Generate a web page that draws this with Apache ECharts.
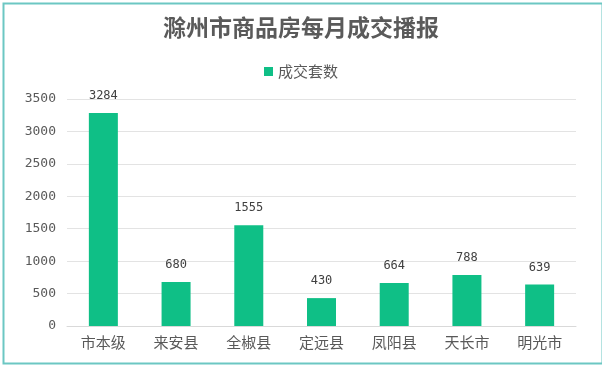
<!DOCTYPE html>
<html><head><meta charset="utf-8">
<script src="https://cdn.jsdelivr.net/npm/echarts@6/dist/echarts.min.js"></script>
<style>html,body{margin:0;padding:0;background:#fff}#c{width:602px;height:373px}</style>
</head><body><div id="c"></div>
<script>
const categories = ['市本级','来安县','全椒县','定远县','凤阳县','天长市','明光市'];
const deals = [3284, 680, 1555, 430, 664, 788, 639];
const yTicks = [0, 500, 1000, 1500, 2000, 2500, 3000, 3500];

const chart = echarts.init(document.getElementById('c'));
chart.setOption({
  backgroundColor: '#fff',
  animation: false,
  graphic: [{
    type: 'rect', left: 1, top: 1,
    shape: { width: 599, height: 360 },
    style: { fill: 'none', stroke: '#6cc7c3', lineWidth: 2 }
  }],
  title: {
    text: '滁州市商品房每月成交播报',
    left: 'center', top: 11,
    textStyle: { fontFamily: 'Noto Sans CJK SC', fontWeight: 'bold', fontSize: 23, color: '#5a5a5a' }
  },
  legend: {
    data: ['成交套数'], top: 59, left: 'center',
    itemWidth: 9, itemHeight: 9, itemGap: 5, icon: 'rect',
    textStyle: { fontFamily: 'Noto Sans CJK SC', fontSize: 15, color: '#595959' }
  },
  grid: { left: 67, right: 26, top: 99, bottom: 47, containLabel: false },
  xAxis: {
    type: 'category', data: categories,
    axisLine: { lineStyle: { color: '#d9d9d9', width: 1 } },
    axisTick: { show: false },
    axisLabel: { fontFamily: 'Noto Sans CJK SC', fontSize: 15, color: '#595959', margin: 9 }
  },
  yAxis: {
    type: 'value', min: yTicks[0], max: yTicks[yTicks.length - 1], interval: 500,
    axisLine: { show: false }, axisTick: { show: false },
    splitLine: { lineStyle: { color: '#e3e3e3', width: 1 } },
    axisLabel: { fontFamily: 'DejaVu Sans Mono', fontSize: 13, color: '#595959', margin: 11,
      formatter: v => String(v) }
  },
  series: [{
    name: '成交套数', type: 'bar', data: deals, barWidth: 29,
    itemStyle: { color: '#0fbf86' },
    label: { show: true, position: 'top', distance: 11, fontFamily: 'DejaVu Sans Mono', fontSize: 12, color: '#404040' }
  }]
});
</script></body></html>
